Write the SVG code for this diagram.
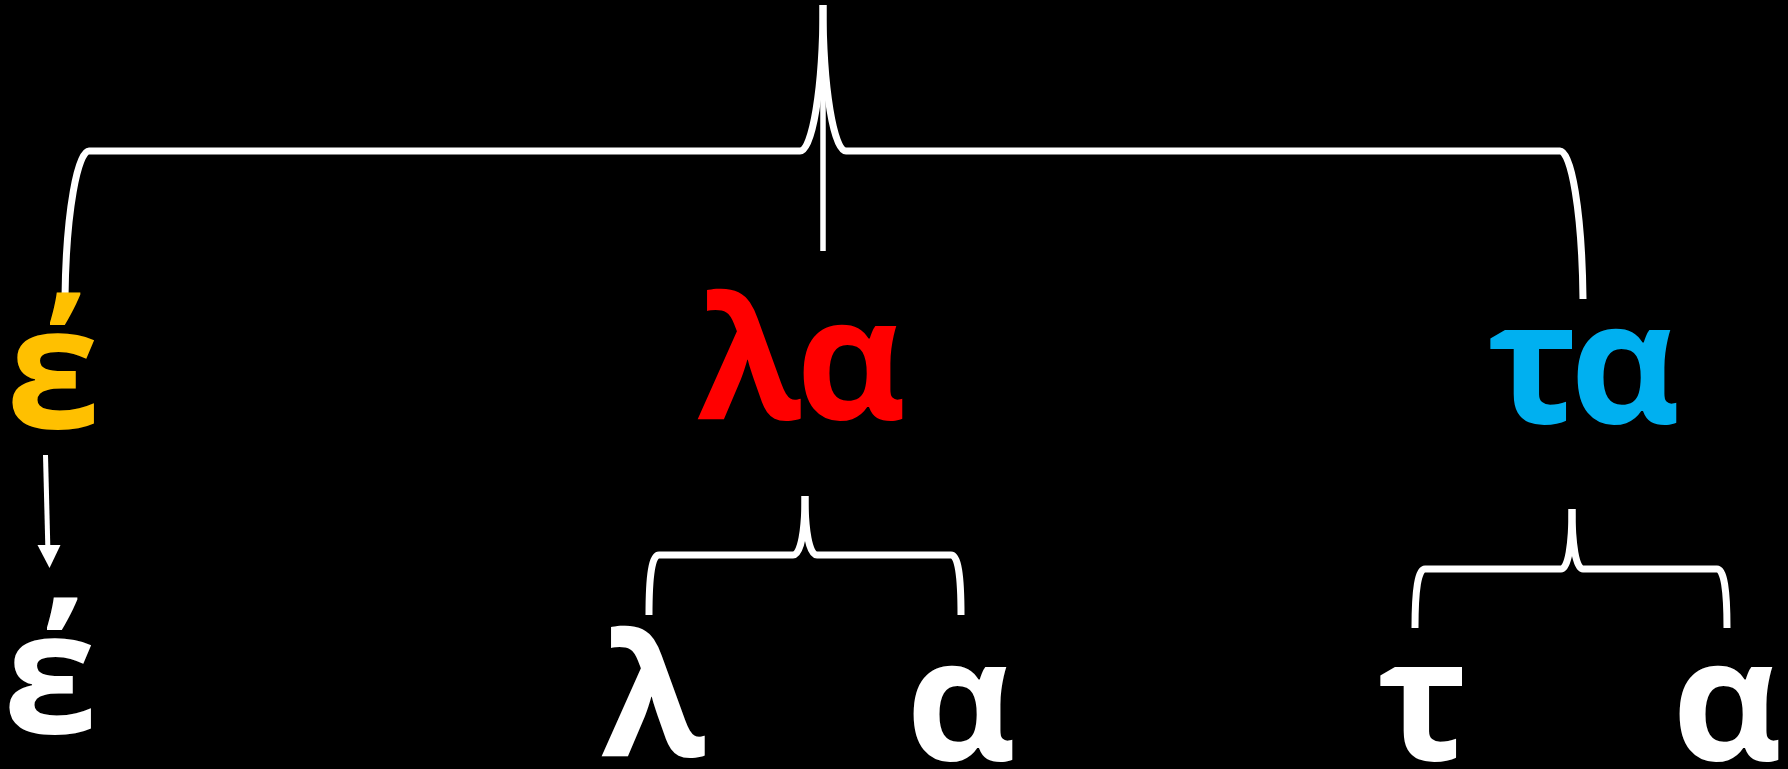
<svg xmlns="http://www.w3.org/2000/svg" width="1788" height="769" viewBox="0 0 1788 769">
<style>
.t{font-family:"Open Sans","Noto Sans","DejaVu Sans",sans-serif;font-weight:700;font-size:170px}
.c{fill:none;stroke:#fff;stroke-width:7}
</style>
<rect width="1788" height="769" fill="#000"/>
<g id="connectors">
<path class="c" d="M823 5 C823 90 812 151 800 151 L89 151 C78 151 66 210 65 298"/>
<path class="c" d="M823 5 C823 90 834 151 846 151 L1560 151 C1571 151 1582 210 1583 299"/>
<line x1="823" y1="5" x2="823" y2="251" stroke="#fff" stroke-width="5.5"/>
<path class="c" d="M805 496 C805 530 801 555 793 555 L659 555 C652 555 649 575 649 615"/>
<path class="c" d="M805 496 C805 530 809 555 817 555 L951 555 C958 555 961 575 961 615"/>
<path class="c" d="M1572 509 C1572 545 1568 569 1561 569 L1425 569 C1418 569 1415 590 1415 628"/>
<path class="c" d="M1572 509 C1572 545 1576 569 1583 569 L1717 569 C1724 569 1727 590 1727 628"/>
<line x1="45.5" y1="455" x2="47.8" y2="546" stroke="#fff" stroke-width="5"/>
<path d="M37.5 545 L60.5 545 L49.5 568 z" fill="#fff"/>
</g>
<g id="node-e-top"><text class="t" x="6" y="428" fill="#FFC000">έ</text></g>
<g id="node-la"><text class="t" y="419" fill="#FF0000"><tspan x="697">λ</tspan><tspan x="796">α</tspan></text></g>
<g id="node-ta"><text class="t" y="423" fill="#00B0F0"><tspan x="1487">τ</tspan><tspan x="1570">α</tspan></text></g>
<g id="node-e-bottom"><text class="t" x="3" y="733" fill="#fff">έ</text></g>
<g id="node-l"><text class="t" x="601" y="756" fill="#fff">λ</text></g>
<g id="node-a1"><text class="t" x="906" y="760" fill="#fff">α</text></g>
<g id="node-t"><text class="t" x="1377" y="760" fill="#fff">τ</text></g>
<g id="node-a2"><text class="t" x="1672" y="760" fill="#fff">α</text></g>
</svg>
